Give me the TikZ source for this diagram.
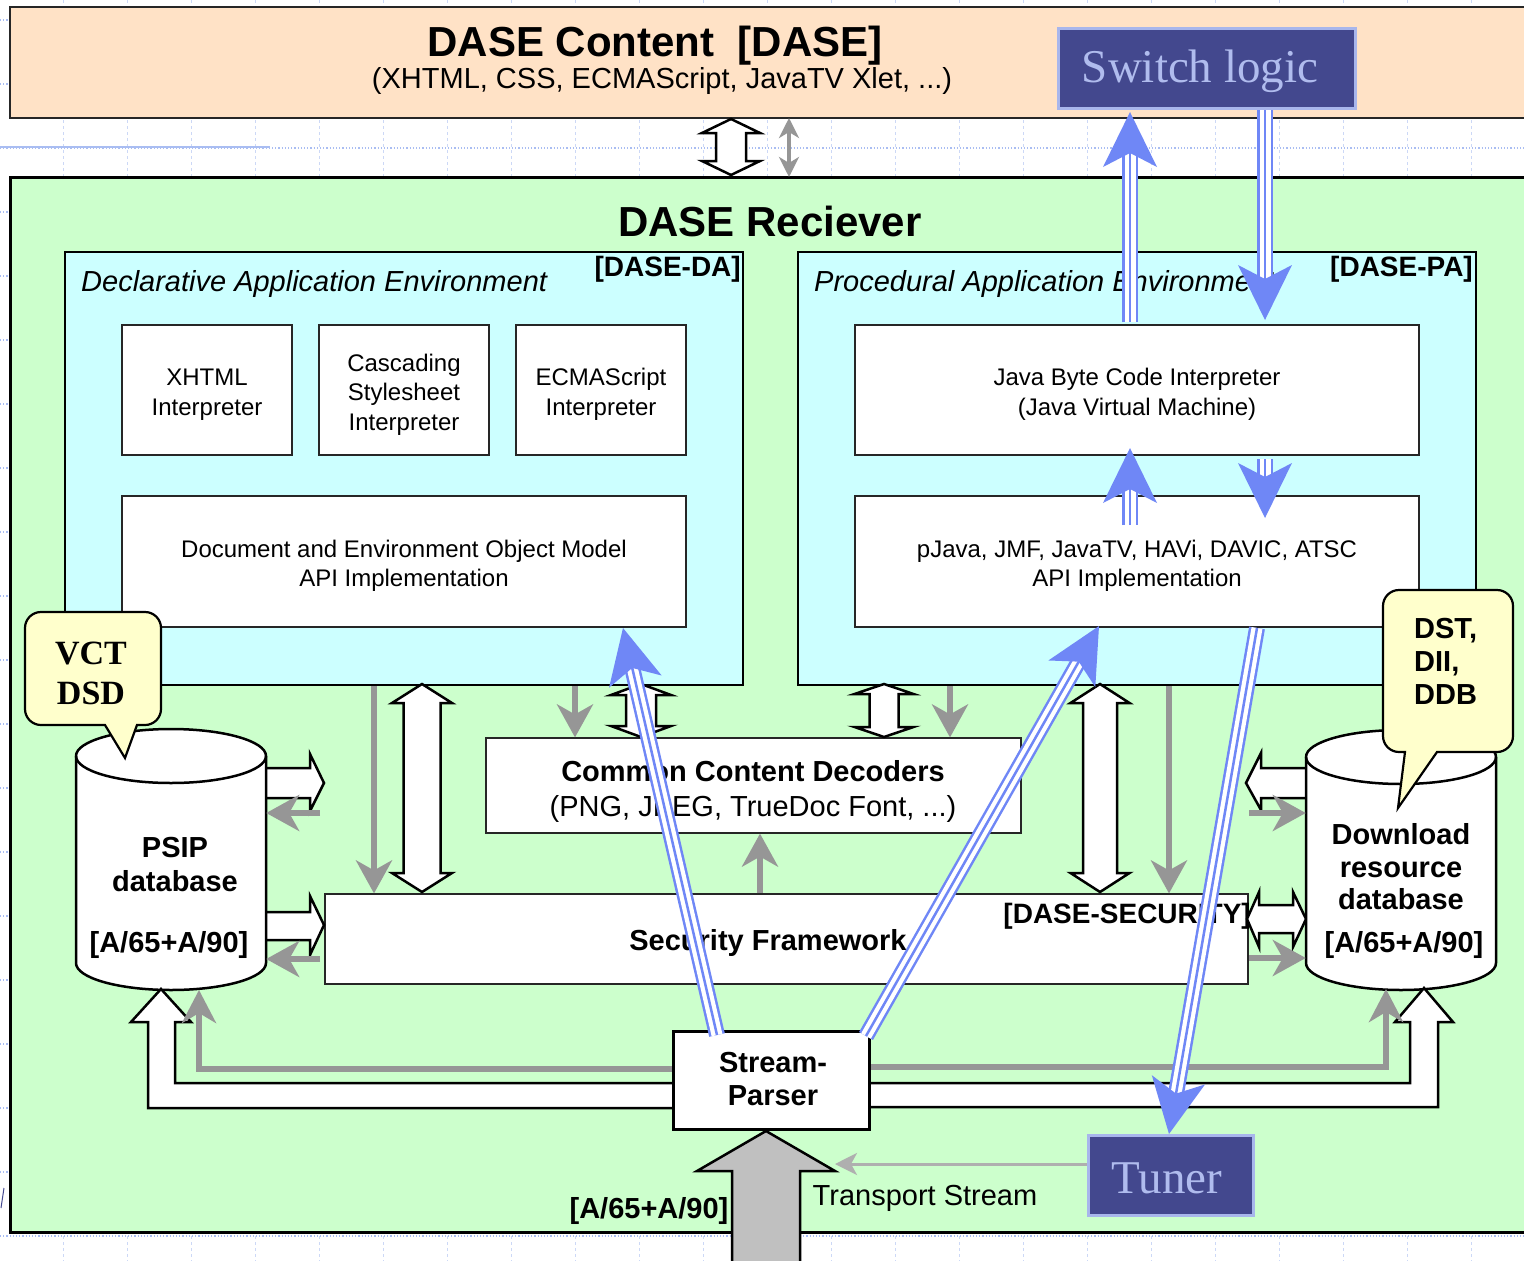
\documentclass[tikz,border=0pt]{standalone}
\usepackage{fontspec}
\setmainfont{Liberation Sans}
\newfontfamily\tnr{Liberation Serif}
\usetikzlibrary{arrows.meta,calc}
\definecolor{peach}{HTML}{FFE2C6}
\definecolor{mint}{HTML}{CCFFCC}
\definecolor{pcyan}{HTML}{CCFFFF}
\definecolor{navy}{HTML}{43488E}
\definecolor{lav}{HTML}{B0BCEE}
\definecolor{lavb}{HTML}{A8B6EC}
\definecolor{barrow}{HTML}{6F87F6}
\definecolor{garrow}{HTML}{969696}
\definecolor{lgarrow}{HTML}{AFAFAF}
\definecolor{cream}{HTML}{FFFFCC}
\definecolor{gridc}{HTML}{CCD8F6}
\definecolor{gridd}{HTML}{A9BDF2}
\definecolor{bigg}{HTML}{C0C0C0}
\newcommand\fsz[2]{\fontsize{#1pt}{#2pt}\selectfont}
\newcommand\bluearrow[2]{%
  \coordinate (ba-b) at ($(#2)!55pt!(#1)$);
  \coordinate (ba-l) at ($(ba-b)!27pt!90:(#2)$);
  \coordinate (ba-r) at ($(ba-b)!27pt!-90:(#2)$);
  \coordinate (ba-n) at ($(#2)!41pt!(#1)$);
  \coordinate (ba-s) at ($(#2)!30pt!(#1)$);
  \draw[barrow, line width=16pt] (#1) -- (ba-s);
  \draw[white, line width=11pt] (#1) -- (ba-s);
  \draw[barrow, line width=2.5pt] (#1) -- (ba-s);
  \fill[barrow] (#2) -- (ba-l) -- (ba-n) -- (ba-r) -- cycle;}
\newcommand\vdbl[6]{%
  \draw[blockarrow] (#1,#2) -- ++(#5,#6) -- ++(#4-#5,0) -- (#1+#4,#3-#6)
    -- ++(#5-#4,0) -- (#1,#3) -- ++(-#5,-#6) -- ++(#5-#4,0) -- (#1-#4,#2+#6)
    -- ++(#4-#5,0) -- cycle;}
\newcommand\cyl[4]{%
  \draw[line width=2.5pt, fill=white] (#1-#4,#2) -- (#1-#4,#3)
    arc[start angle=180, end angle=360, x radius=#4pt, y radius=27pt]
    -- (#1+#4,#2) arc[start angle=0, end angle=180, x radius=#4pt, y radius=27pt] -- cycle;
  \draw[line width=2.5pt] (#1-#4,#2) arc[start angle=180, end angle=360, x radius=#4pt, y radius=27pt];}
\begin{document}
\begin{tikzpicture}[x=1pt,y=-1pt,
  whitebox/.style={draw=black!85, line width=1.2pt, fill=white, inner sep=0pt, align=center, font=\fsz{24}{29.5}},
  envbox/.style={draw=black, line width=2.5pt, fill=pcyan, inner sep=0pt},
  blockarrow/.style={draw=black, line width=2.5pt, fill=white, line join=miter},
  grayarr/.style={draw=garrow, line width=5.5pt, -{Stealth[length=33pt,width=36pt,inset=10pt]}},
  callout/.style={draw=black, line width=2.2pt, fill=cream},
  darkbox/.style={fill=navy, draw=lavb, line width=3pt, text=lav, font=\tnr\fsz{47}{50}, inner sep=0pt},
  lbl/.style={inner sep=0pt, font=\bfseries\fsz{29}{34}, align=center},
]
\useasboundingbox (0,0) rectangle (1524,1261);
\fill[white] (0,0) rectangle (1524,1261);
% background grid
\foreach \gx in {63,127,...,1535} \draw[gridc, dashed, line width=1pt] (\gx,0) -- (\gx,1261);
\foreach \gy in {20,84,...,1240} \draw[gridd, dotted, line width=1.2pt] (0,\gy) -- (1524,\gy);
\draw[gridd, line width=2.5pt] (0,147) -- (270,147);
\draw[navy, line width=1pt] (1,1208) -- (4,1188);

% DASE content
\node[draw=black!85, line width=1.5pt, fill=peach, minimum width=1520pt, minimum height=111pt, inner sep=0pt] (dase) at (770,62.5) {};
\node[lbl, font=\bfseries\fsz{42}{46}] (dasetitle) at (655,46) {DASE Content\hspace{0.556em}[DASE]};
\node[inner sep=0pt, font=\fsz{29}{33}] (dasesub) at (662,81) {(XHTML, CSS, ECMAScript, JavaTV Xlet, ...)};
\node[darkbox, minimum width=297pt, minimum height=80pt] (sw) at (1206.5,68) {};
\node[inner sep=0pt, text=lav, font=\tnr\fsz{47}{50}] (swlbl) at (1200,71) {Switch logic};

% receiver
\node[draw=black, line width=3pt, fill=mint, minimum width=1520pt, minimum height=1055pt, inner sep=0pt] (recv) at (770,704.5) {};
\node[lbl, font=\bfseries\fsz{42}{46}] (recvtitle) at (770,221) {DASE Reciever};

% declarative
\node[envbox, minimum width=678pt, minimum height=433pt] (da) at (404,468.5) {};
\node[inner sep=0pt, anchor=west, font=\itshape\fsz{29}{33}] (dalbl) at (81,284) {Declarative Application Environment};
\node[inner sep=0pt, anchor=east, font=\bfseries\fsz{28}{32}] (datag) at (741,269) {[DASE-DA]};
\node[whitebox, minimum width=170pt, minimum height=130pt] (xhtml) at (207,390) {\rule{0pt}{26pt}XHTML\\Interpreter};
\node[whitebox, minimum width=170pt, minimum height=130pt] (css) at (404,390) {\rule{0pt}{26pt}Cascading\\Stylesheet\\Interpreter};
\node[whitebox, minimum width=170pt, minimum height=130pt] (ecma) at (601,390) {\rule{0pt}{26pt}ECMAScript\\Interpreter};
\node[whitebox, minimum width=564pt, minimum height=131pt] (dom) at (404,561.5) {\rule{0pt}{26pt}Document and Environment Object Model\\API Implementation};

% procedural
\node[envbox, minimum width=678pt, minimum height=433pt] (pa) at (1137,468.5) {};
\node[inner sep=0pt, anchor=west, font=\itshape\fsz{29}{33}] (palbl) at (814,284) {Procedural Application Environment};
\node[inner sep=0pt, anchor=east, font=\bfseries\fsz{28}{32}] (patag) at (1473,269) {[DASE-PA]};
\node[whitebox, minimum width=564pt, minimum height=130pt] (jvm) at (1137,390) {\rule{0pt}{26pt}Java Byte Code Interpreter\\(Java Virtual Machine)};
\node[whitebox, minimum width=564pt, minimum height=131pt] (papi) at (1137,561.5) {\rule{0pt}{26pt}pJava, JMF, JavaTV, HAVi, DAVIC, ATSC\\API Implementation};

% decoders and security
\node[whitebox, minimum width=535pt, minimum height=95pt] (ccd) at (753.5,785.5) {};
\node[inner sep=0pt, align=center, font=\fsz{29}{35}] (ccdlbl) at (753,791) {\textbf{Common Content Decoders}\\(PNG, JPEG, TrueDoc Font, ...)};
\node[whitebox, minimum width=923pt, minimum height=90pt] (sec) at (786.5,939) {};
\node[lbl] (seclbl) at (768,943) {Security Framework};
\node[inner sep=0pt, anchor=east, font=\bfseries\fsz{28}{30}] (sectag) at (1251,916) {[DASE-SECURITY]};

% middle arrows
\draw[grayarr] (374,0 |- da.south) -- (374,0 |- sec.north);
\draw[grayarr] (575,0 |- da.south) -- (575,0 |- ccd.north);
\draw[grayarr] (950,0 |- pa.south) -- (950,0 |- ccd.north);
\draw[grayarr] (1169,0 |- pa.south) -- (1169,0 |- sec.north);
\draw[grayarr] (760,0 |- sec.north) -- (760,0 |- ccd.south);
\vdbl{422}{684}{892}{18.5}{30}{19}
\vdbl{641}{684}{737}{15}{30}{11}
\vdbl{884}{684}{737}{14.5}{29.5}{10}
\vdbl{1100}{684}{892}{17}{29.5}{19}

% PSIP database
\draw[blockarrow] (266,768) -- (310,768) -- (310,754) -- (324,783) -- (310,811) -- (310,798) -- (266,798);
\draw[blockarrow] (266,912) -- (310,912) -- (310,896) -- (324,925) -- (310,955) -- (310,940) -- (266,940);
\node[inner sep=0pt, minimum width=190pt, minimum height=261pt] (psip) at (171,860) {};
\cyl{171}{756}{963}{95}
\node[lbl] (psiplbl) at (175,865) {PSIP\\database};
\node[lbl] (psipstd) at (169,945) {[A/65+A/90]};
\draw[grayarr] (320,813) -- (psip.east |- 0,813);
\draw[grayarr] (320,959) -- (psip.east |- 0,959);

% Download resource database
\draw[blockarrow] (1306,768) -- (1261,768) -- (1261,753) -- (1246,783) -- (1261,810) -- (1261,798) -- (1306,798);
\draw[blockarrow] (1247,919) -- (1259,892) -- (1259,905) -- (1293,905) -- (1293,892) -- (1306,919) -- (1293,947) -- (1293,933) -- (1259,933) -- (1259,947) -- cycle;
\node[inner sep=0pt, minimum width=190pt, minimum height=261pt] (dl) at (1401,860) {};
\cyl{1401}{757}{963}{95}
\node[lbl, font=\bfseries\fsz{29}{32.5}] (dllbl) at (1401,867) {Download\\resource\\database};
\node[lbl] (dlstd) at (1404,945) {[A/65+A/90]};
\draw[grayarr] (1249,813) -- (dl.west |- 0,813);
\draw[grayarr] (1249,958) -- (dl.west |- 0,958);

% callouts
\draw[callout] (125,758) -- (137,725) [rounded corners=16pt] -- (161,725) -- (161,612) -- (25,612) -- (25,725) [sharp corners] -- (105,725) -- cycle;
\node[inner sep=0pt, font=\tnr\bfseries\fsz{34}{40}, align=center] (vct) at (91,673) {VCT\\DSD};
\draw[callout] (1398,808) -- (1437,752) [rounded corners=16pt] -- (1513,752) -- (1513,590) -- (1383,590) -- (1383,752) [sharp corners] -- (1405,752) -- cycle;
\node[inner sep=0pt, anchor=west, font=\bfseries\fsz{29}{33}, align=left] (dst) at (1414,661) {DST,\\DII,\\DDB};

% stream parser and its outputs
\node[draw=black, line width=3pt, fill=white, minimum width=193pt, minimum height=95pt, inner sep=0pt] (sp) at (771.5,1080.5) {};
\draw[blockarrow] (sp.west |- 0,1108) -- (148,1108) -- (148,1022) -- (131,1022) -- (161,989) -- (191,1022) -- (175,1022) -- (175,1083) -- (sp.west |- 0,1083);
\draw[blockarrow] (sp.east |- 0,1107) -- (1438,1107) -- (1438,1022) -- (1453,1022) -- (1424,988) -- (1395,1022) -- (1410,1022) -- (1410,1083) -- (sp.east |- 0,1083);
\draw[garrow, line width=6pt, -{Stealth[length=33pt,width=34pt,inset=10pt]}] (sp.west |- 0,1069) -- (199,1069) -- (199,990);
\draw[garrow, line width=6pt, -{Stealth[length=33pt,width=34pt,inset=10pt]}] (sp.east |- 0,1067) -- (1386,1067) -- (1386,989);
\draw[line width=3pt, fill=white] (sp.south west) rectangle (sp.north east);
\node[lbl, font=\bfseries\fsz{29}{33}] (splbl) at (773,1079) {Stream-\\Parser};

% input
\draw[line width=2.5pt, fill=bigg, line join=miter] (732,1266) -- (732,1171) -- (697,1171) -- (766,1131) -- (835,1171) -- (800,1171) -- (800,1266);
\node[darkbox, minimum width=165pt, minimum height=80pt] (tuner) at (1170.5,1175) {};
\node[inner sep=0pt, text=lav, font=\tnr\fsz{47}{50}] (tunerlbl) at (1167,1178) {Tuner};
\draw[lgarrow, line width=3pt, -{Stealth[length=22pt,width=22pt,inset=6pt]}] (tuner.west |- 0,1164) -- (835,1164);
\node[inner sep=0pt, font=\fsz{29}{33}] (tslbl) at (925,1198) {Transport Stream};
\node[lbl] (instd) at (649,1211) {[A/65+A/90]};

% blue arrows
\coordinate (swup-s) at (1130,322); \coordinate (swup-t) at (1130,112);
\coordinate (swdn-s) at (1265,110); \coordinate (swdn-t) at (1265,320);
\coordinate (c-s) at (1130,525); \coordinate (c-t) at (1130,448);
\coordinate (d-s) at (1265,459); \coordinate (d-t) at (1265,518);
\coordinate (e-s) at (717,1035); \coordinate (e-t) at (623,628);
\coordinate (f-s) at (866,1036); \coordinate (f-t) at (1099,626);
\coordinate (g-s) at (1257,628); \coordinate (g-t) at (1169,1134);
\bluearrow{swup-s}{swup-t}
\bluearrow{swdn-s}{swdn-t}
\bluearrow{c-s}{c-t}
\bluearrow{d-s}{d-t}
\bluearrow{e-s}{e-t}
\bluearrow{f-s}{f-t}
\bluearrow{g-s}{g-t}

% between content and receiver
\vdbl{731}{119}{175}{15}{29}{14}
\draw[garrow, line width=3.5pt, {Stealth[length=20pt,width=20pt,inset=6pt]}-{Stealth[length=20pt,width=20pt,inset=6pt]}] (789,118) -- (789,177);
\end{tikzpicture}
\end{document}
